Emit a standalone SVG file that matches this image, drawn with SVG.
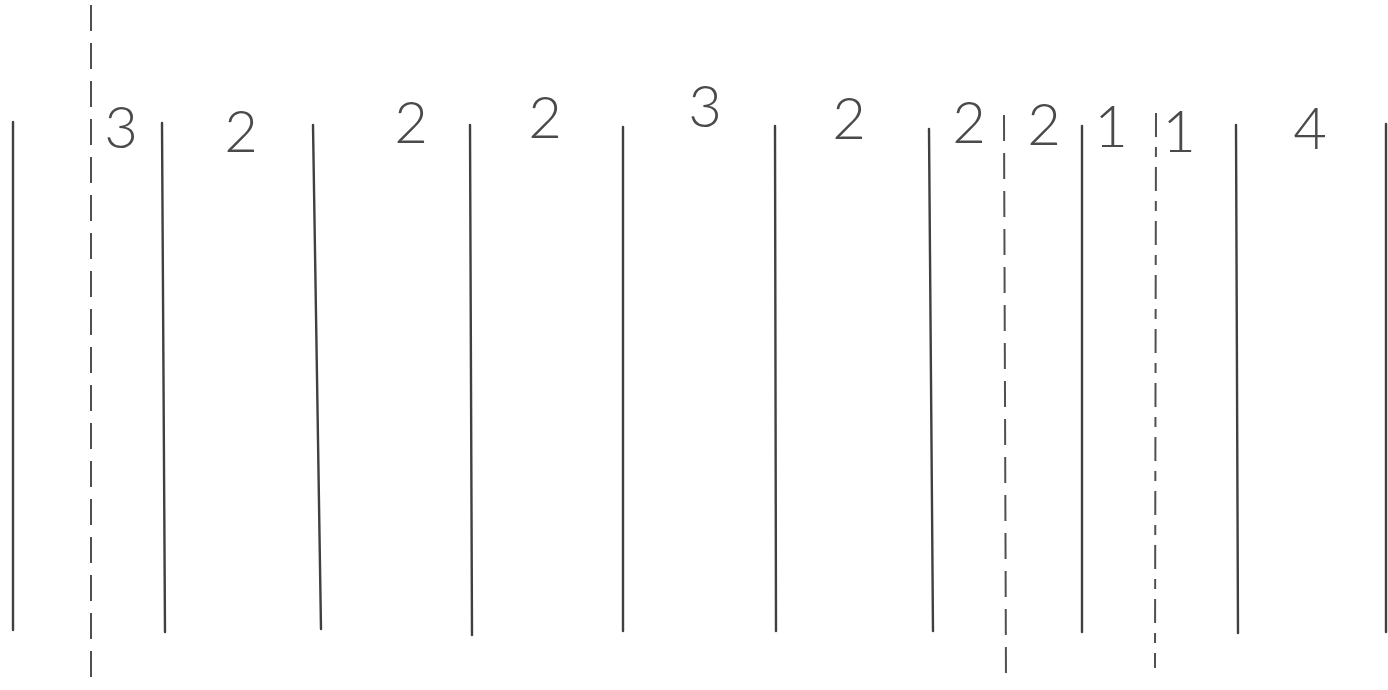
<svg xmlns="http://www.w3.org/2000/svg" width="1388" height="690" viewBox="0 0 1388 690">
<style>
.s{stroke:#404040;stroke-width:2.4;fill:none;stroke-linecap:round}
.d{stroke:#505050;stroke-width:2;fill:none;stroke-dasharray:26 12}
.c{stroke:#505050;stroke-width:2;fill:none;stroke-dasharray:24 10 10 10}
.t{font-family:"Lato","Liberation Sans",Arial,sans-serif;font-size:58px;fill:#4a4a4a;text-anchor:middle;font-weight:300}
</style>
<rect width="1388" height="690" fill="#fff"/>
<g id="lines">
<line class="s" x1="13" y1="122" x2="13" y2="630"/>
<line class="s" x1="162" y1="123" x2="165" y2="632"/>
<line class="s" x1="313" y1="125" x2="321" y2="629"/>
<line class="s" x1="470" y1="125" x2="472" y2="635"/>
<line class="s" x1="623" y1="127" x2="623" y2="631"/>
<line class="s" x1="775" y1="126" x2="776" y2="631"/>
<line class="s" x1="929" y1="129" x2="933" y2="631"/>
<line class="s" x1="1082" y1="126" x2="1082" y2="632"/>
<line class="s" x1="1236" y1="125" x2="1238" y2="633"/>
<line class="s" x1="1386" y1="124" x2="1386" y2="632"/>
</g>
<g id="axes">
<line class="d" x1="91" y1="5" x2="91" y2="681"/>
<line class="d" x1="1004" y1="115" x2="1006" y2="683"/>
<line class="c" x1="1156" y1="113" x2="1155" y2="668"/>
</g>
<g id="labels">
<text class="t" x="121" y="148">3</text>
<text class="t" x="241" y="152">2</text>
<text class="t" x="411" y="143">2</text>
<text class="t" x="545" y="138">2</text>
<text class="t" x="705" y="127">3</text>
<text class="t" x="849" y="139">2</text>
<text class="t" x="969" y="143">2</text>
<text class="t" x="1044" y="145">2</text>
<text class="t" x="1111" y="147">1</text>
<text class="t" x="1179" y="152">1</text>
<text class="t" x="1310" y="149">4</text>
</g>
</svg>
